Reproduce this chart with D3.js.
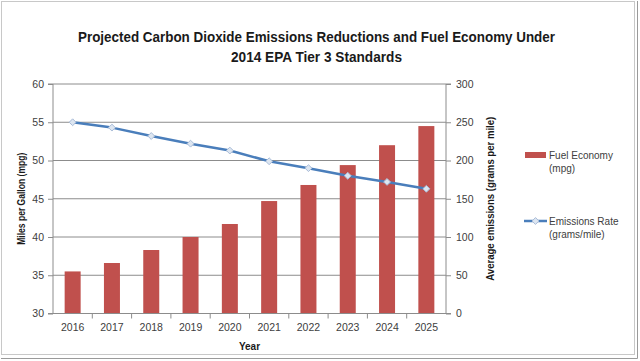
<!DOCTYPE html>
<html>
<head>
<meta charset="utf-8">
<script src="https://cdn.jsdelivr.net/npm/d3@7"></script>
<style>
  body { margin: 0; background: #fff; }
  svg { display: block; font-family: "Liberation Sans", Arial, sans-serif; }
</style>
</head>
<body>
<div id="chart"></div>
<script>
// chart data
const years = ["2016", "2017", "2018", "2019", "2020", "2021", "2022", "2023", "2024", "2025"];
const fuelEconomy = [35.5, 36.6, 38.3, 40.0, 41.7, 44.7, 46.8, 49.4, 52.0, 54.5];
const emissionsRate = [250, 243, 232, 222, 213, 199, 190, 180, 172, 163];
const mpgTicks = [30, 35, 40, 45, 50, 55, 60];
const gramTicks = [0, 50, 100, 150, 200, 250, 300];

const width = 640, height = 361;
const plot = { left: 53, right: 446, top: 84, bottom: 313.5 };

const svg = d3.select('#chart').append('svg')
    .attr('width', width)
    .attr('height', height);

// outer frame
svg.append('rect')
    .attr('x', 1.5).attr('y', 1.5)
    .attr('width', 633).attr('height', 353)
    .attr('fill', '#fff')
    .attr('stroke', '#c8c8c8');
svg.append('path')
    .attr('d', 'M637.5,1V358.5H1')
    .attr('fill', 'none')
    .attr('stroke', '#9a9a9a');

// title
svg.append('text')
    .attr('x', 316.5).attr('y', 42)
    .attr('text-anchor', 'middle')
    .attr('font-size', 15).attr('font-weight', 'bold')
    .attr('fill', '#1a1a1a')
    .attr('textLength', 477).attr('lengthAdjust', 'spacingAndGlyphs')
    .text('Projected Carbon Dioxide Emissions Reductions and Fuel Economy Under');
svg.append('text')
    .attr('x', 316.5).attr('y', 62)
    .attr('text-anchor', 'middle')
    .attr('font-size', 15).attr('font-weight', 'bold')
    .attr('fill', '#1a1a1a')
    .attr('textLength', 171).attr('lengthAdjust', 'spacingAndGlyphs')
    .text('2014 EPA Tier 3 Standards');

// scales
const x = d3.scaleBand().domain(years).range([plot.left, plot.right]).paddingInner(0.6).paddingOuter(0.3);
const xBand = d3.scaleBand().domain(years).range([plot.left, plot.right]);
const yLeft = d3.scaleLinear().domain([30, 60]).range([plot.bottom, plot.top]);
const yRight = d3.scaleLinear().domain([0, 300]).range([plot.bottom, plot.top]);

// gridlines
svg.append('g')
    .selectAll('line')
    .data(mpgTicks.slice(1))
    .join('line')
    .attr('x1', plot.left).attr('x2', plot.right)
    .attr('y1', d => yLeft(d)).attr('y2', d => yLeft(d))
    .attr('stroke', '#8c8c8c')
    .attr('stroke-width', 1);

// bars
svg.append('g')
    .selectAll('rect')
    .data(fuelEconomy)
    .join('rect')
    .attr('x', (d, i) => xBand(years[i]) + xBand.bandwidth() / 2 - 8)
    .attr('width', 16)
    .attr('y', d => yLeft(d))
    .attr('height', d => yLeft(30) - yLeft(d))
    .attr('fill', '#c0504d');

// axes
const axisColor = '#8c8c8c';
const labelColor = '#404040';

const leftAxis = svg.append('g')
    .attr('transform', `translate(${plot.left},0)`)
    .call(d3.axisLeft(yLeft).tickValues(mpgTicks).tickSize(5).tickPadding(4));
const rightAxis = svg.append('g')
    .attr('transform', `translate(${plot.right},0)`)
    .call(d3.axisRight(yRight).tickValues(gramTicks).tickSize(5).tickPadding(5));
const bottomAxis = svg.append('g')
    .attr('transform', `translate(0,${plot.bottom})`)
    .call(d3.axisBottom(xBand).tickSize(0).tickPadding(10));

// category boundary ticks on the x axis
svg.append('g')
    .selectAll('line')
    .data(years.slice(1))
    .join('line')
    .attr('x1', d => xBand(d)).attr('x2', d => xBand(d))
    .attr('y1', plot.bottom).attr('y2', plot.bottom + 5)
    .attr('stroke', axisColor);

[leftAxis, rightAxis, bottomAxis].forEach(g => {
    g.selectAll('.domain').attr('stroke', axisColor);
    g.selectAll('.tick line').attr('stroke', axisColor);
    g.selectAll('text')
        .attr('font-family', '"Liberation Sans", Arial, sans-serif')
        .attr('font-size', 10.5)
        .attr('fill', labelColor);
});
leftAxis.select('.domain').attr('d', `M-5,${plot.top}H0V${plot.bottom}H-5`);
rightAxis.select('.domain').attr('d', `M5,${plot.top}H0V${plot.bottom}H5`);
bottomAxis.select('.domain').attr('d', `M${plot.left},0H${plot.right}`);

// emissions line
const line = d3.line()
    .x((d, i) => xBand(years[i]) + xBand.bandwidth() / 2)
    .y(d => yRight(d));

svg.append('path')
    .datum(emissionsRate)
    .attr('d', line)
    .attr('fill', 'none')
    .attr('stroke', '#4a7ebb')
    .attr('stroke-width', 2.5)
    .attr('stroke-linejoin', 'round');

svg.append('g')
    .selectAll('path')
    .data(emissionsRate)
    .join('path')
    .attr('d', d3.symbol(d3.symbolDiamond2, 30))
    .attr('transform', (d, i) => `translate(${xBand(years[i]) + xBand.bandwidth() / 2},${yRight(d)})`)
    .attr('fill', '#dde6f1')
    .attr('stroke', '#a9bcd8')
    .attr('stroke-width', 1);

// axis titles
svg.append('text')
    .attr('transform', `translate(25,${(plot.top + plot.bottom) / 2}) rotate(-90)`)
    .attr('text-anchor', 'middle')
    .attr('font-size', 10).attr('font-weight', 'bold')
    .attr('fill', '#1a1a1a')
    .attr('textLength', 92).attr('lengthAdjust', 'spacingAndGlyphs')
    .text('Miles per Gallon (mpg)');
svg.append('text')
    .attr('transform', `translate(494,${(plot.top + plot.bottom) / 2}) rotate(-90)`)
    .attr('text-anchor', 'middle')
    .attr('font-size', 10).attr('font-weight', 'bold')
    .attr('fill', '#1a1a1a')
    .attr('textLength', 164).attr('lengthAdjust', 'spacingAndGlyphs')
    .text('Average emissions  (grams  per mile)');
svg.append('text')
    .attr('x', (plot.left + plot.right) / 2).attr('y', 350)
    .attr('text-anchor', 'middle')
    .attr('font-size', 10).attr('font-weight', 'bold')
    .attr('fill', '#1a1a1a')
    .text('Year');

// legend
const legend = svg.append('g').attr('font-size', 10).attr('fill', labelColor);
legend.append('rect')
    .attr('x', 525).attr('y', 152).attr('width', 21).attr('height', 6)
    .attr('fill', '#c0504d');
legend.append('text').attr('x', 549).attr('y', 159).text('Fuel Economy');
legend.append('text').attr('x', 549).attr('y', 172).text('(mpg)');

legend.append('line')
    .attr('x1', 524).attr('x2', 547).attr('y1', 221).attr('y2', 221)
    .attr('stroke', '#4a7ebb').attr('stroke-width', 2.5);
legend.append('path')
    .attr('d', d3.symbol(d3.symbolDiamond2, 30))
    .attr('transform', 'translate(535.5,221)')
    .attr('fill', '#dde6f1').attr('stroke', '#a9bcd8');
legend.append('text').attr('x', 549).attr('y', 225).text('Emissions Rate');
legend.append('text').attr('x', 549).attr('y', 238).text('(grams/mile)');
</script>
</body>
</html>
